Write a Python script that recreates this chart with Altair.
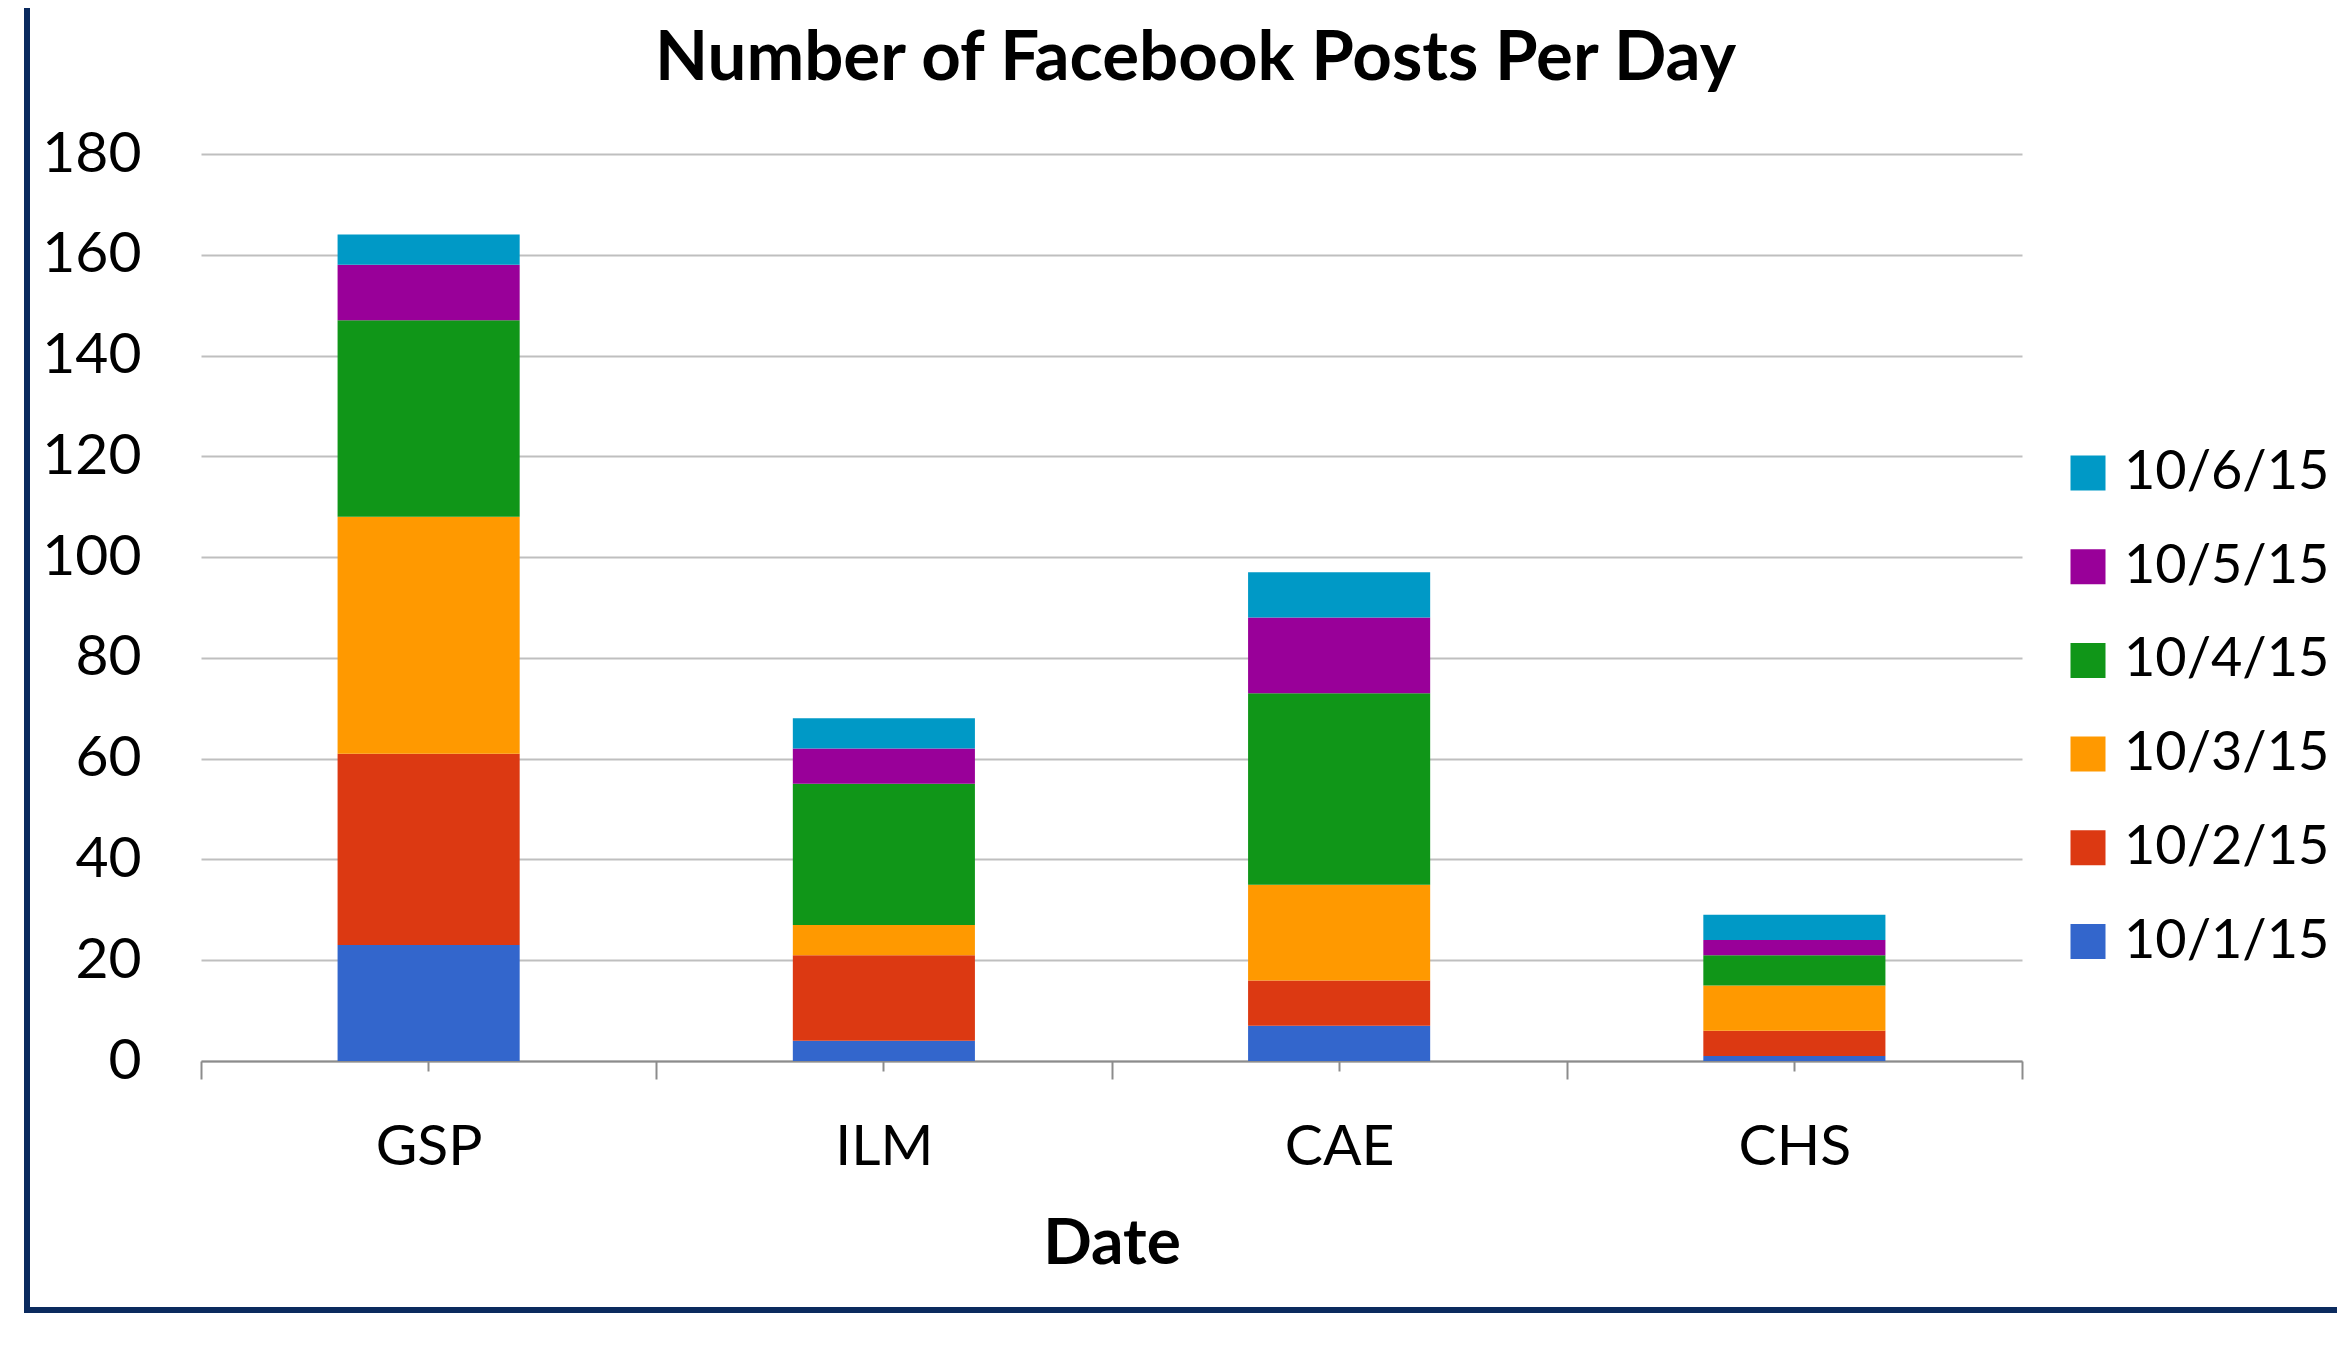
import altair as alt
import pandas as pd

stations = ["GSP", "ILM", "CAE", "CHS"]
dates = ["10/1/15", "10/2/15", "10/3/15", "10/4/15", "10/5/15", "10/6/15"]
d1 = [23, 4, 7, 1]
d2 = [38, 17, 9, 5]
d3 = [47, 6, 19, 9]
d4 = [39, 28, 38, 6]
d5 = [11, 7, 15, 3]
d6 = [6, 6, 9, 5]
series = [d1, d2, d3, d4, d5, d6]
colors = ["#3366CC", "#DC3912", "#FF9900", "#109618", "#990099", "#0099C6"]
y_ticks = [0, 20, 40, 60, 80, 100, 120, 140, 160, 180]

rows = []
for i, (d, vals) in enumerate(zip(dates, series)):
    for s, v in zip(stations, vals):
        rows.append({"station": s, "date": d, "order": i, "posts": v})
df = pd.DataFrame(rows)

W, H = 1821, 907

xscale = alt.Scale(domain=stations, paddingInner=0, paddingOuter=0)
yscale = alt.Scale(domain=[0, 180], nice=False)

bars = alt.Chart(df).mark_bar(width=alt.RelativeBandSize(0.4)).encode(
    x=alt.X("station:N", scale=xscale, sort=stations,
            axis=alt.Axis(title="Date", labelAngle=0, tickBand="extent",
                          tickSize=18, tickColor="#8c8c8c", tickWidth=2,
                          domainColor="#8c8c8c", domainWidth=2,
                          labelFontSize=57, labelColor="#000000", labelPadding=40,
                          titleFontSize=64, titleFontWeight="bold", titleColor="#000000",
                          titlePadding=37)),
    y=alt.Y("posts:Q", stack="zero", scale=yscale,
            axis=alt.Axis(title=None, values=y_ticks, ticks=False, domain=False,
                          gridColor="#BFBFBF", gridWidth=2,
                          labelFontSize=57, labelColor="#000000", labelPadding=60)),
    color=alt.Color("date:N",
                    scale=alt.Scale(domain=dates[::-1], range=colors[::-1]),
                    legend=alt.Legend(title=None, orient="none", legendX=1860, legendY=292,
                                      symbolType="square", symbolSize=1225,
                                      symbolStrokeWidth=0, labelFontSize=54,
                                      labelColor="#000000", labelOffset=9,
                                      labelLimit=500, rowPadding=39.7)),
    order=alt.Order("order:Q", sort="ascending"),
)

center_ticks = alt.Chart(df).mark_bar(opacity=0, width=alt.RelativeBandSize(0.4)).encode(
    x=alt.X("station:N", scale=xscale, sort=stations,
            axis=alt.Axis(title=None, labels=False, domain=False, grid=False, orient="bottom",
                          tickSize=20, tickColor="#8c8c8c", tickWidth=2, offset=-10)),
    y=alt.Y("sum(posts):Q", scale=yscale),
)

border_left = alt.Chart(df).mark_rule(color="#0B2A5E", strokeWidth=6).encode(
    x=alt.value(-174), y=alt.value(-160), y2=alt.value(1158)
)
border_bottom = alt.Chart(df).mark_rule(color="#0B2A5E", strokeWidth=6).encode(
    x=alt.value(-177), x2=alt.value(2200), y=alt.value(1156)
)

chart = alt.layer(bars, center_ticks, border_left, border_bottom).resolve_axis(
    x="independent"
).properties(
    width=W, height=H,
    padding={"left": 193, "top": 146, "right": 315, "bottom": 270},
    autosize=alt.AutoSizeParams(type="none"),
    title=alt.TitleParams("Number of Facebook Posts Per Day", fontSize=69,
                          fontWeight="bold", color="#000000", anchor="middle",
                          frame="group", dx=84, offset=-158, baseline="alphabetic"),
).configure(font="Lato").configure_view(stroke=None)

chart.save("out.html", embed_options={"renderer": "svg", "actions": False})
